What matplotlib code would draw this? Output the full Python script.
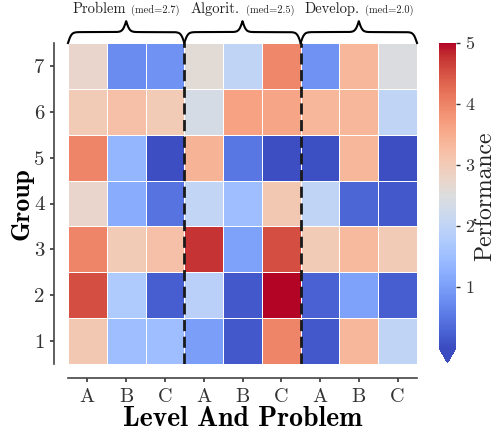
import numpy as np
import matplotlib
matplotlib.use("Agg")
import matplotlib.pyplot as plt
from matplotlib.offsetbox import TextArea, HPacker, AnnotationBbox

plt.rcParams['font.family'] = ['cmr10', 'DejaVu Serif']
plt.rcParams['mathtext.fontset'] = 'cm'
plt.rcParams['axes.unicode_minus'] = False

# ---- data ----
levels = ["A", "B", "C", "A", "B", "C", "A", "B", "C"]
groups = [1, 2, 3, 4, 5, 6, 7]
categories = ["Problem", "Algorit.", "Develop."]
medians = ["(med=2.7)", "(med=2.5)", "(med=2.0)"]
# rows: group 1 (bottom) .. group 7 (top)
g1 = [3.05, 1.50, 1.50, 1.00, 0.15, 4.00, 0.15, 3.35, 2.00]
g2 = [4.55, 1.75, 0.20, 1.90, 0.15, 5.00, 0.25, 1.05, 0.20]
g3 = [4.00, 3.00, 3.20, 4.75, 1.05, 4.55, 3.00, 3.30, 3.00]
g4 = [2.75, 1.20, 0.45, 2.05, 1.50, 3.05, 2.00, 0.30, 0.15]
g5 = [4.00, 1.35, 0.02, 3.40, 0.50, 0.02, 0.05, 3.35, 0.02]
g6 = [3.00, 3.20, 3.00, 2.35, 3.65, 3.60, 3.35, 3.35, 2.00]
g7 = [2.75, 0.75, 0.85, 2.60, 2.00, 3.95, 0.85, 3.35, 2.45]
values = np.array([g1, g2, g3, g4, g5, g6, g7])

W, H = 497, 432
fig = plt.figure(figsize=(W / 100, H / 100), dpi=100)
ax = fig.add_axes([68 / W, 1 - 364 / H, (417 - 68) / W, (364 - 43) / H])
cax = fig.add_axes([439 / W, 1 - 363 / H, 17 / W, (363 - 43) / H])

mesh = ax.pcolormesh(np.arange(10), np.arange(8), values, cmap='coolwarm',
                     vmin=0, vmax=5, edgecolors='white', linewidth=0.5)
ax.set_xlim(0, 9)
ax.set_ylim(0, 7)

for xb in [3, 6]:
    ax.axvline(xb, color='#1a1a1a', ls=(0, (4, 2)), lw=2)

for s in ['top', 'right']:
    ax.spines[s].set_visible(False)
for s in ['left', 'bottom']:
    ax.spines[s].set_position(('outward', 10))
    ax.spines[s].set_color('#444444')
    ax.spines[s].set_linewidth(1.2)

ax.set_xticks(np.arange(9) + 0.5)
ax.set_xticklabels(levels, fontsize=14.5, color='#333333')
ax.set_yticks(np.arange(7) + 0.5)
ax.set_yticklabels([str(g) for g in groups], fontsize=15, color='#333333')
ax.tick_params(axis='both', length=3, width=1.2, color='#333333', pad=4)

ax.set_xlabel("Level And Problem", fontsize=20, family='cmb10', labelpad=0)
ax.set_ylabel("Group", fontsize=18.5, family='cmb10', labelpad=0)

# braces
trans = ax.get_xaxis_transform()
def brace(x0, x1):
    res = 301
    x = np.linspace(x0, x1, res)
    xh = x[:res // 2 + 1]
    beta = 22.0
    yh = 1 / (1 + np.exp(-beta * (xh - xh[0]))) + 1 / (1 + np.exp(-beta * (xh - xh[-1])))
    y = np.concatenate((yh, yh[-2::-1]))
    yf = 1.0 + (y - 0.5) * 0.068
    ax.plot(x, yf, color='black', lw=1.5, transform=trans, clip_on=False)

for i, (cat, med) in enumerate(zip(categories, medians)):
    brace(3 * i, 3 * i + 3)
    t1 = TextArea(cat, textprops=dict(fontsize=10.5, color='#222222'))
    t2 = TextArea(med, textprops=dict(fontsize=7.5, color='#222222'))
    box = HPacker(children=[t1, t2], align='baseline', pad=0, sep=4)
    ab = AnnotationBbox(box, (3 * i + 1.5, 1.105), xycoords=trans, frameon=False,
                        box_alignment=(0.5, 0.5), annotation_clip=False)
    ax.add_artist(ab)

cb = fig.colorbar(mesh, cax=cax, extend='min', extendfrac=0.05)
cb.outline.set_visible(False)
cb.set_ticks([1, 2, 3, 4, 5])
cb.ax.tick_params(labelsize=13, length=3, width=1, color='#333333', labelcolor='#333333')
fig.text(491.5 / W, 1 - 196 / H, "Performance", rotation=90, rotation_mode='anchor',
         ha='center', va='baseline', fontsize=17, color='#222222')

fig.savefig("out.png", dpi=100)
